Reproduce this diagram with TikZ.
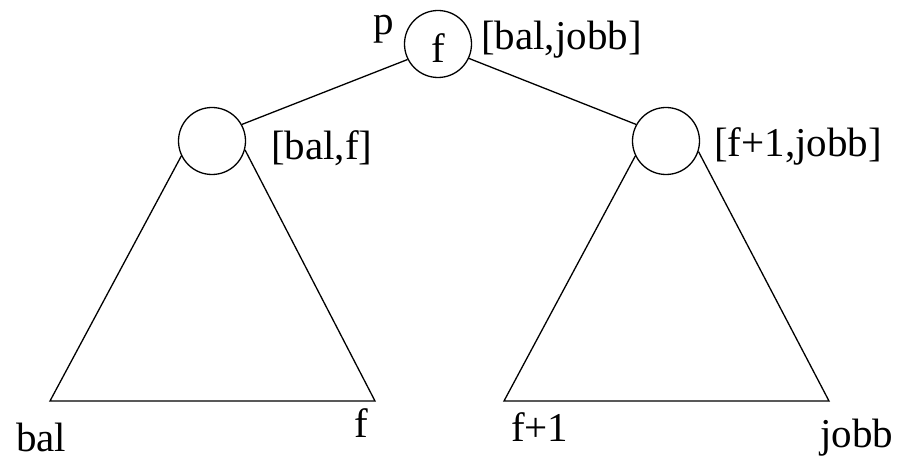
\documentclass[tikz,border=0pt]{standalone}
\usepackage{fontspec}
\setmainfont{Liberation Serif}
\begin{document}
\begin{tikzpicture}[x=1pt,y=-1pt,
  treenode/.style={circle,draw,line width=1.3pt,minimum size=67pt,inner sep=0pt},
  edge/.style={line width=1.3pt,line join=miter},
  lbl/.style={anchor=base west,inner sep=0pt,font=\fontsize{41}{48}\selectfont}]
\useasboundingbox (0,0) rectangle (911,462);
\node[treenode] (T) at (438,44) {};
\node[treenode] (L) at (212,141) {};
\node[treenode] (R) at (666,141) {};
\node[lbl,anchor=base] (fT) at (438,63) {f};
\node[lbl] (p) at (373,35) {p};
\node[lbl] (lt) at (481,50) {[bal,jobb]};
\node[lbl] (ll) at (271,160) {[bal,f]};
\node[lbl] (lr) at (714,157) {[f+1,jobb]};
\node[lbl] (b1) at (16,451) {bal};
\node[lbl] (b2) at (354,438) {f};
\node[lbl] (b3) at (511,442) {f+1};
\node[lbl] (b4) at (820,447) {jobb};
\coordinate (LA) at (50,401);
\coordinate (LB) at (375,401);
\coordinate (RA) at (504,401);
\coordinate (RB) at (829,401);
\draw[edge] (T.207) -- (L.29);
\draw[edge] (T.335) -- (R.151);
\draw[edge] (L.206) -- (LA) -- (LB) -- (L.345);
\draw[edge] (R.206) -- (RA) -- (RB) -- (R.342);
\end{tikzpicture}
\end{document}
